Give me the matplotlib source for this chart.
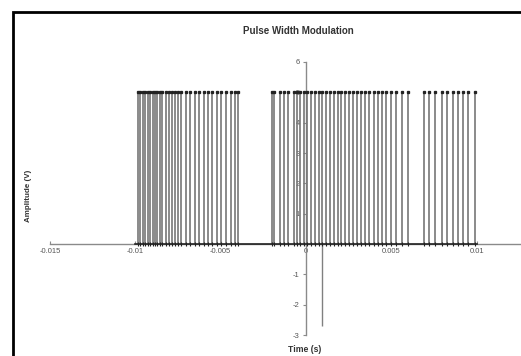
import matplotlib
matplotlib.use("Agg")
import matplotlib.pyplot as plt
from matplotlib.patches import Rectangle

# ---- data ----
pulse_times = [
    -0.009854, -0.009719, -0.009579, -0.009427, -0.009287, -0.009135, -0.008994,
    -0.008842, -0.008702, -0.008550, -0.008409, -0.008216, -0.008023, -0.007866,
    -0.007690, -0.007497, -0.007298, -0.007047, -0.006796, -0.006503, -0.006246,
    -0.005977, -0.005743, -0.005485, -0.005234, -0.004959, -0.004690, -0.004415,
    -0.004164, -0.003965,
    -0.002018, -0.001860, -0.001532, -0.001298, -0.001064, -0.000713, -0.000556,
    -0.000380, -0.000129, 0.000070, 0.000304, 0.000515, 0.000749, 0.000947,
    0.001199, 0.001392, 0.001626, 0.001860, 0.002076, 0.002310, 0.002503,
    0.002760, 0.002994, 0.003228, 0.003480, 0.003696, 0.003965, 0.004222,
    0.004456, 0.004708, 0.005000, 0.005292, 0.005626, 0.005977,
    0.006930, 0.007222, 0.007573, 0.007965, 0.008257, 0.008585, 0.008901,
    0.009193, 0.009520, 0.009912,
]
pulse_high = 5.0
signal_span = [-0.0100, 0.0100]
spike_time = [0.00095]
spike_min = [-2.7]

x_ticks = [-0.015, -0.01, -0.005, 0, 0.005, 0.01, 0.015]
x_tick_labels = ["-0.015", "-0.01", "-0.005", "0", "0.005", "0.01", ""]
y_ticks = [-3, -2, -1, 0, 1, 2, 3, 4, 5, 6]
y_tick_labels = ["-3", "-2", "-1", "", "1", "2", "3", "4", "5", "6"]

W, H = 521, 356
fig = plt.figure(figsize=(W / 100, H / 100), dpi=100)
plt.rcParams['font.family'] = ['Liberation Sans', 'DejaVu Sans']

# outer chart border (extends beyond the image on the right/bottom)
fig.patches.append(Rectangle((12.5 / W, -0.05), 1.2, (H - 11.5) / H + 0.05,
                             transform=fig.transFigure, fill=False,
                             edgecolor='black', linewidth=2.0))

ax_left, ax_right = 50, 562
ax_top, ax_bot = 62, 335
ax = fig.add_axes([ax_left / W, (H - ax_bot) / H,
                   (ax_right - ax_left) / W, (ax_bot - ax_top) / H])
ax.set_xlim(-0.015, 0.015)
ax.set_ylim(-3, 6)
ax.patch.set_visible(False)

axis_col = '#8a8a8a'
for s in ['top', 'right']:
    ax.spines[s].set_visible(False)
ax.spines['left'].set_position(('data', 0))
ax.spines['bottom'].set_position(('data', 0))
for s in ['left', 'bottom']:
    ax.spines[s].set_color(axis_col)
    ax.spines[s].set_linewidth(1.0)

ax.set_xticks(x_ticks)
ax.set_xticklabels(x_tick_labels)
ax.set_yticks(y_ticks)
ax.set_yticklabels(y_tick_labels)
ax.tick_params(axis='x', direction='in', length=2.5, color=axis_col,
               labelsize=5.5, labelcolor='#555555', pad=3)
ax.tick_params(axis='y', direction='out', length=2.5, color=axis_col,
               labelsize=5.5, labelcolor='#555555', pad=2)

# pulses
ax.vlines(pulse_times, 0, pulse_high, colors='#777777', linewidth=1.2, zorder=3)
ax.plot(signal_span, [0, 0], color='#222222', linewidth=1.2, zorder=4)
ax.plot(pulse_times, [pulse_high] * len(pulse_times), linestyle='none',
        marker='s', markersize=1.4, color='#222222', zorder=5)
ax.plot(pulse_times, [0] * len(pulse_times), linestyle='none',
        marker='|', markersize=2.5, markeredgewidth=0.8, color='#222222', zorder=5)
ax.vlines(spike_time, spike_min, 0, colors='#808080', linewidth=1.0, zorder=3)

fig.text(298 / W, 1 - 31 / H, "Pulse Width Modulation", ha='center', va='center',
         fontsize=7, fontweight='bold', color='#333333')
fig.text(305 / W, 1 - 349 / H, "Time (s)", ha='center', va='center',
         fontsize=6.2, fontweight='bold', color='#333333')
fig.text(29 / W, 1 - 196 / H, "Amplitude (V)", ha='center', va='center',
         rotation=90, fontsize=5.8, fontweight='bold', color='#333333')

fig.savefig("out.png", dpi=100)
